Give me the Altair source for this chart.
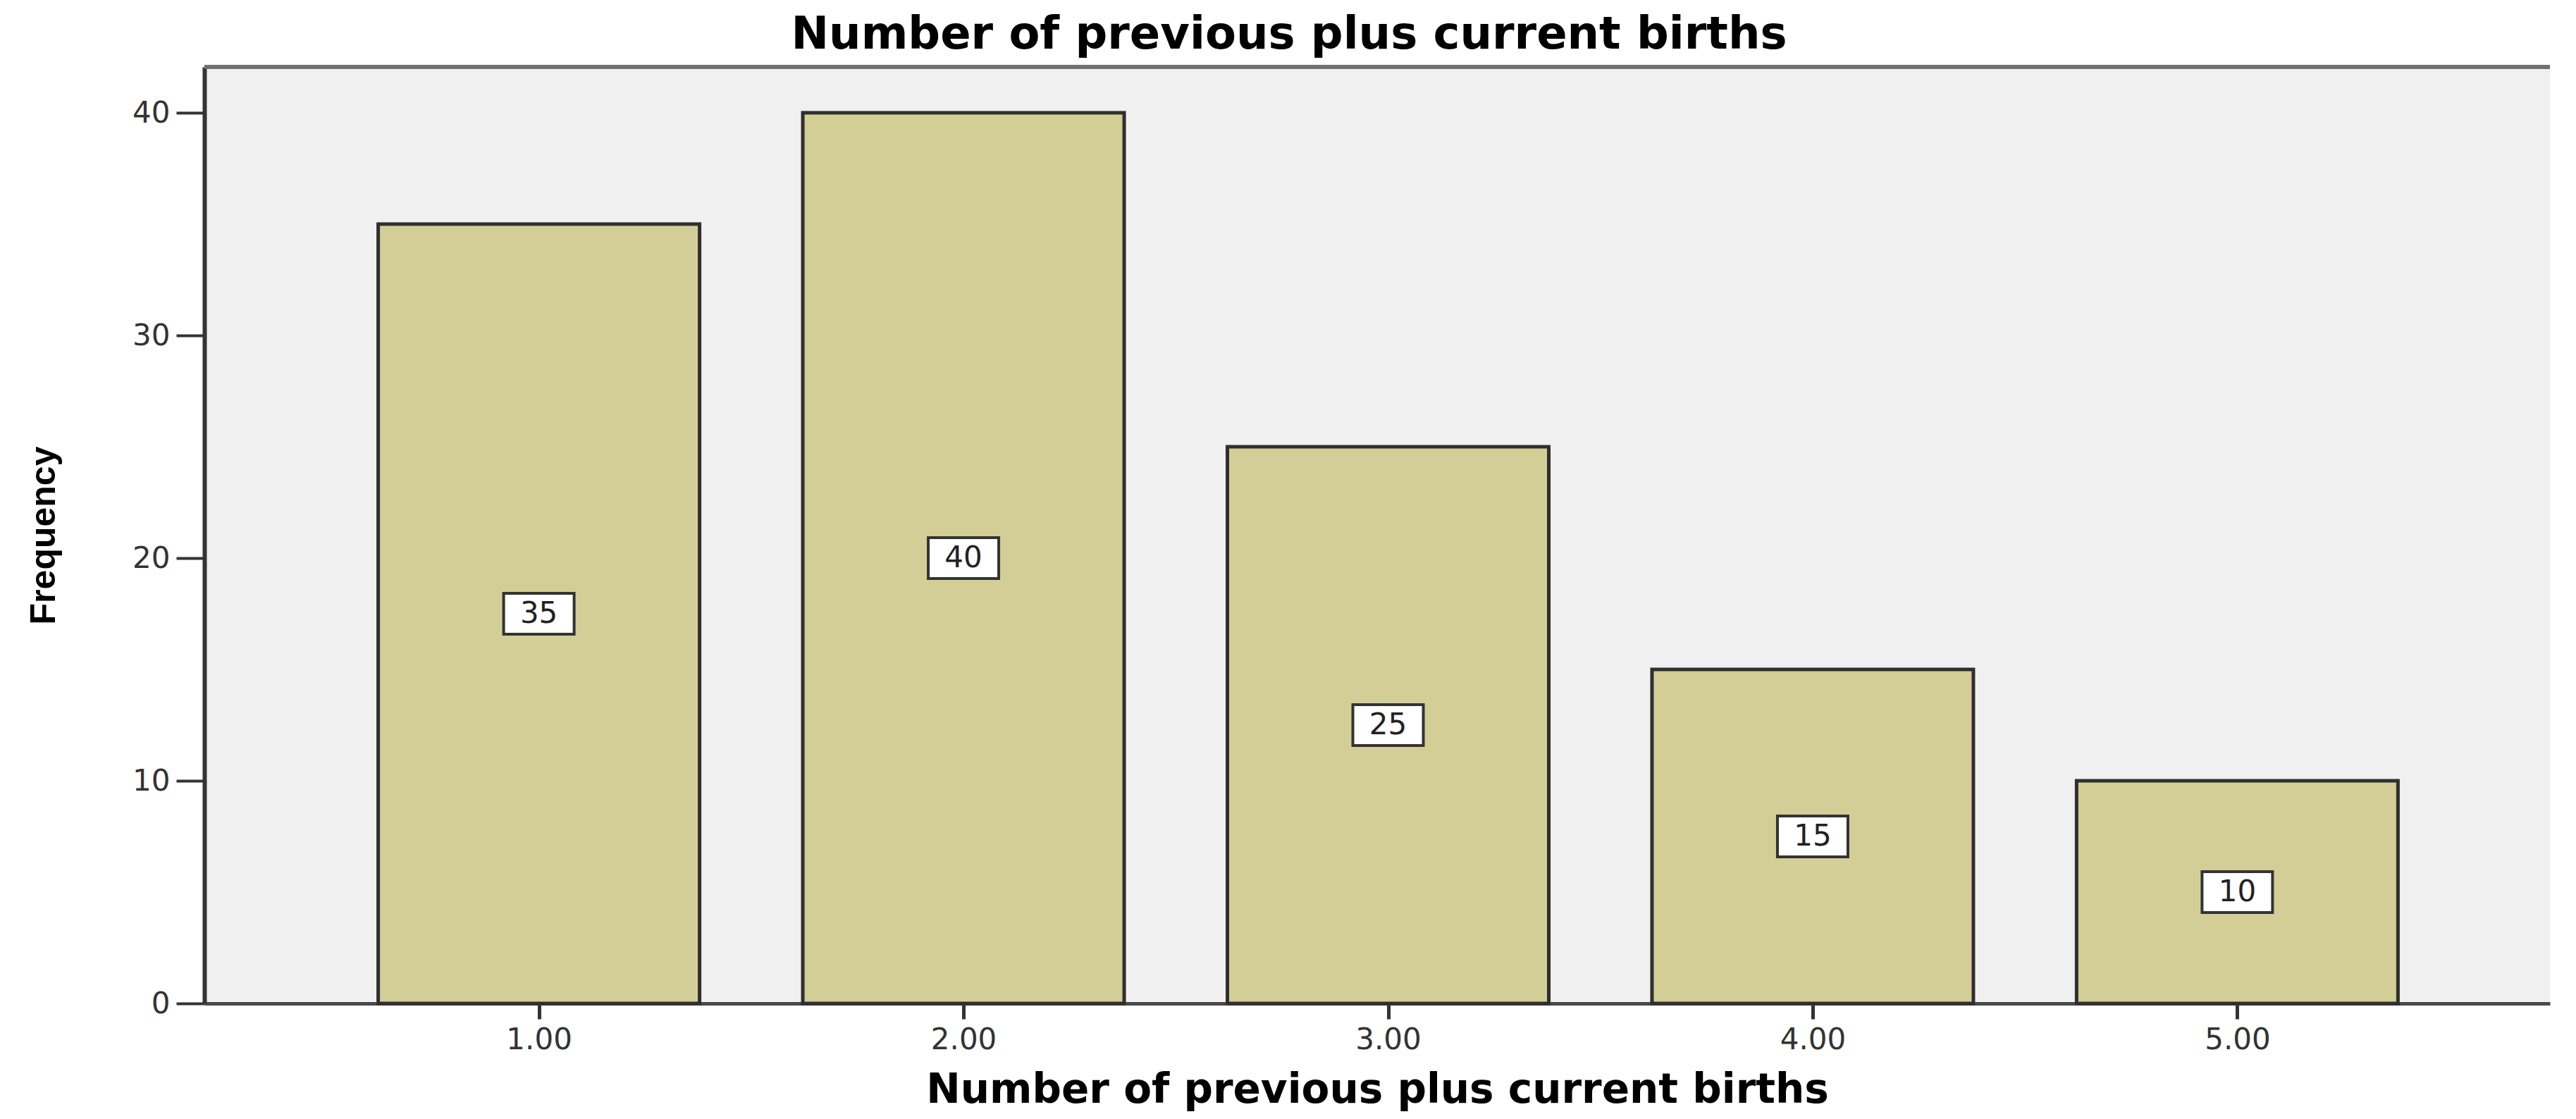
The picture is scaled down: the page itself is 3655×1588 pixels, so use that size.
import altair as alt
import pandas as pd

births = [1, 2, 3, 4, 5]
frequency = [35, 40, 25, 15, 10]
y_ticks = [0, 10, 20, 30, 40]

df = pd.DataFrame({"births": births, "frequency": frequency})

x_axis = alt.Axis(
    values=births, format=".2f", title="Number of previous plus current births",
    grid=False, tickSize=22, tickWidth=5, tickColor="#333333",
    labelPadding=9, labelFont="DejaVu Sans", labelFontSize=42, labelColor="#333333",
    titleFont="DejaVu Sans", titleFontSize=58, titleFontWeight="bold", titleColor="black",
    titlePadding=22, domainColor="#4a4a4a", domainWidth=5,
)
y_axis = alt.Axis(
    values=y_ticks, title="Frequency", grid=False, tickSize=40, tickWidth=4,
    tickColor="#333333", labelPadding=9, labelFont="DejaVu Sans", labelFontSize=42,
    labelColor="#333333", titleFont="Liberation Sans", titleFontSize=50,
    titleFontWeight="bold", titleColor="black", titlePadding=100,
    domainColor="#333333", domainWidth=6,
)
x_scale = alt.Scale(domain=[0.2205, 5.728], nice=False, zero=False)
y_scale = alt.Scale(domain=[0, 42.06], nice=False)

base = alt.Chart(df)

bars = base.mark_bar(size=456, color="#d3ce96", stroke="#2f2f2f", strokeWidth=5).encode(
    x=alt.X("births:Q", scale=x_scale, axis=x_axis),
    y=alt.Y("frequency:Q", scale=y_scale, axis=y_axis),
)

mid = base.transform_calculate(mid="datum.frequency / 2")

boxes = mid.mark_point(
    shape="M-1,-0.58L1,-0.58L1,0.58L-1,0.58Z", size=10000, filled=True,
    fill="white", stroke="#333333", strokeWidth=4, opacity=1,
).encode(
    x=alt.X("births:Q", scale=x_scale, axis=x_axis),
    y=alt.Y("mid:Q", scale=y_scale, axis=y_axis),
)

labels = mid.mark_text(font="DejaVu Sans", fontSize=42, color="#222222", baseline="middle").encode(
    x=alt.X("births:Q", scale=x_scale, axis=x_axis),
    y=alt.Y("mid:Q", scale=y_scale, axis=y_axis),
    text="frequency:Q",
)

top_line = base.mark_rule(color="#707070", strokeWidth=5).encode(y=alt.value(0))

chart = alt.layer(bars, top_line, boxes, labels).properties(
    width=3328,
    height=1329,
    background="white",
    title=alt.TitleParams(
        "Number of previous plus current births", font="DejaVu Sans", fontSize=64,
        fontWeight="bold", color="black", anchor="middle", frame="bounds", offset=11,
    ),
    padding={"left": 29, "top": 9, "right": 0, "bottom": 5},
).configure_view(fill="#f0f0f0", stroke=None)

chart.save("out.html", embed_options={"renderer": "svg", "actions": False})
